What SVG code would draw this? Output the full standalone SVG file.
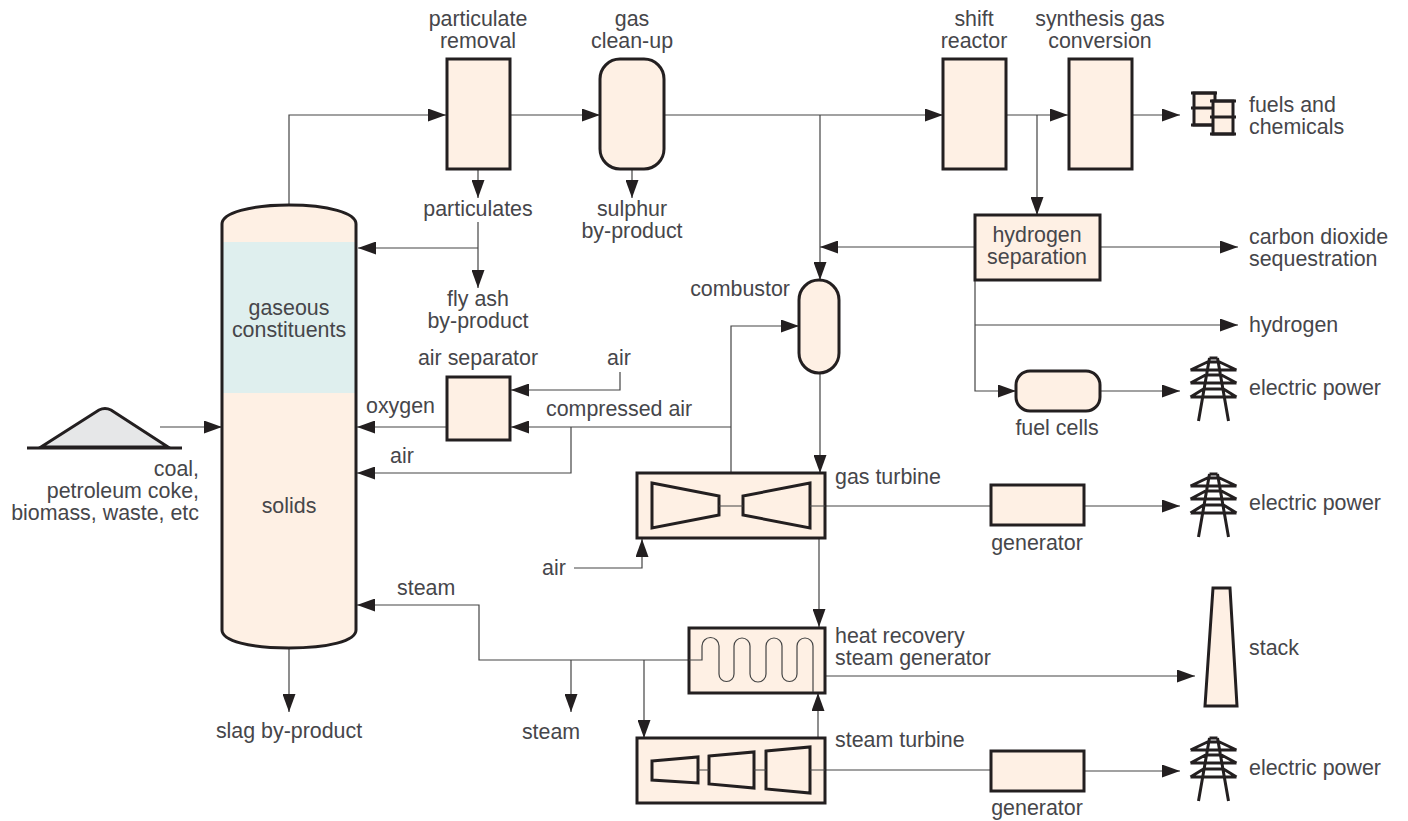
<svg xmlns="http://www.w3.org/2000/svg" width="1408" height="821" viewBox="0 0 1408 821">
<style>
text{font-family:"Liberation Sans",Arial,sans-serif;font-size:21.4px;fill:#46464a}
.m{text-anchor:middle}
.e{text-anchor:end}
.b{fill:#fef0e4;stroke:#231f20;stroke-width:3}
.i{fill:none;stroke:#231f20;stroke-width:3}
.c{fill:none;stroke:#444;stroke-width:1.2}
.t{fill:none;stroke:#231f20;stroke-width:3}
</style>
<defs>
<marker id="a" markerUnits="userSpaceOnUse" markerWidth="18" markerHeight="13" refX="18" refY="6.5" orient="auto"><path d="M0 0L18 6.5L0 13Z" fill="#231f20"/></marker>
<g id="tower"><path class="t" d="M-23 -20H23M-23 -7H23M-23 7H23M-23 -20L-4 -29M23 -20L4 -29M-23 -7L-8 -15M23 -7L8 -15M-23 7L-10 -1M23 7L10 -1M-4 -28H4M-7 -15H7M-9 -1H9M-4 -32H4M-4 -32L-15 31M4 -32L15 31"/></g>
</defs>
<g id="connectors">
<path class="c" marker-end="url(#a)" d="M289 205V115H446"/>
<path class="c" marker-end="url(#a)" d="M510 115H600"/>
<path class="c" marker-end="url(#a)" d="M665 115H943"/>
<path class="c" marker-end="url(#a)" d="M1006 115H1068"/>
<path class="c" marker-end="url(#a)" d="M1132 115H1180"/>
<path class="c" marker-end="url(#a)" d="M478 169V198"/>
<path class="c" marker-end="url(#a)" d="M632 169V198"/>
<path class="c" d="M478 222V248"/>
<path class="c" marker-end="url(#a)" d="M478 248H358"/>
<path class="c" marker-end="url(#a)" d="M478 248V288"/>
<path class="c" marker-end="url(#a)" d="M820 115V280"/>
<path class="c" marker-end="url(#a)" d="M1037 115V215"/>
<path class="c" marker-end="url(#a)" d="M975 247H820"/>
<path class="c" marker-end="url(#a)" d="M1101 247H1238"/>
<path class="c" marker-end="url(#a)" d="M975 280V391H1016"/>
<path class="c" marker-end="url(#a)" d="M975 325H1238"/>
<path class="c" marker-end="url(#a)" d="M1101 391H1180"/>
<path class="c" marker-end="url(#a)" d="M731 472V326H799"/>
<path class="c" marker-end="url(#a)" d="M820 373V473"/>
<path class="c" marker-end="url(#a)" d="M731 427H511"/>
<path class="c" marker-end="url(#a)" d="M620 372V390H511"/>
<path class="c" marker-end="url(#a)" d="M446 427H357"/>
<path class="c" marker-end="url(#a)" d="M571 427V473H357"/>
<path class="c" marker-end="url(#a)" d="M160 427H222"/>
<path class="c" marker-end="url(#a)" d="M574 568H642V539"/>
<path class="c" d="M825 506H991"/>
<path class="c" marker-end="url(#a)" d="M1085 506H1180"/>
<path class="c" marker-end="url(#a)" d="M819 538V627"/>
<path class="c" marker-end="url(#a)" d="M826 676H1195"/>
<path class="c" marker-end="url(#a)" d="M818 737V693"/>
<path class="c" d="M825 770H991"/>
<path class="c" marker-end="url(#a)" d="M1085 771H1180"/>
<path class="c" marker-end="url(#a)" d="M702 660H479V605H357"/>
<path class="c" marker-end="url(#a)" d="M571 660V712"/>
<path class="c" marker-end="url(#a)" d="M644 660V738"/>
<path class="c" marker-end="url(#a)" d="M289 648V712"/>
</g>
<g id="gasifier">
<path d="M222 224C222 213 250 205 289 205C328 205 356 213 356 224V630C356 641 328 648 289 648C250 648 222 641 222 630Z" fill="#fef0e4"/>
<rect x="223" y="242" width="132" height="151" fill="#dfefee"/>
<path d="M222 224C222 213 250 205 289 205C328 205 356 213 356 224V630C356 641 328 648 289 648C250 648 222 641 222 630Z" fill="none" stroke="#231f20" stroke-width="3"/>
<text class="m"><tspan x="289" y="315">gaseous</tspan><tspan x="289" y="337">constituents</tspan></text>
<text class="m" x="289" y="513">solids</text>
</g>
<g id="coal">
<path d="M41 447L99 410Q105 407 111 410L168 447Z" fill="#e6e7e8" stroke="#231f20" stroke-width="3"/>
<path d="M27 448H182" stroke="#231f20" stroke-width="3"/>
<text class="e"><tspan x="199" y="476">coal,</tspan><tspan x="199" y="498">petroleum coke,</tspan><tspan x="199" y="520">biomass, waste, etc</tspan></text>
</g>
<g id="particulate"><rect class="b" x="447" y="59" width="63" height="110"/><text class="m"><tspan x="478" y="26">particulate</tspan><tspan x="478" y="48">removal</tspan></text></g>
<g id="cleanup"><rect class="b" x="600" y="59" width="64" height="110" rx="20"/><text class="m"><tspan x="632" y="26">gas</tspan><tspan x="632" y="48">clean-up</tspan></text></g>
<g id="shift"><rect class="b" x="943" y="59" width="63" height="110"/><text class="m"><tspan x="974" y="26">shift</tspan><tspan x="974" y="48">reactor</tspan></text></g>
<g id="synthesis"><rect class="b" x="1069" y="59" width="63" height="110"/><text class="m"><tspan x="1100" y="26">synthesis gas</tspan><tspan x="1100" y="48">conversion</tspan></text></g>
<g id="barrels">
<path d="M1194 93H1215V125H1194Z" fill="#fef0e4" stroke="#231f20" stroke-width="3"/><path d="M1191 93H1217M1191 108H1217M1191 125H1217" class="t"/>
<path d="M1213 101H1233V134H1213Z" fill="#fef0e4" stroke="#231f20" stroke-width="3"/><path d="M1210 101H1236M1210 117H1236M1210 134H1236" class="t"/>
<text><tspan x="1249" y="111.5">fuels and</tspan><tspan x="1249" y="133.5">chemicals</tspan></text>
</g>
<g id="psub"><text class="m" x="478" y="216">particulates</text><text class="m"><tspan x="478" y="306">fly ash</tspan><tspan x="478" y="328">by-product</tspan></text></g>
<g id="sulphur"><text class="m"><tspan x="632" y="215.5">sulphur</tspan><tspan x="632" y="237.5">by-product</tspan></text></g>
<g id="hydrogen"><rect class="b" x="975" y="215" width="125" height="65"/><text class="m"><tspan x="1037" y="242">hydrogen</tspan><tspan x="1037" y="264">separation</tspan></text></g>
<g id="co2"><text><tspan x="1249" y="243.5">carbon dioxide</tspan><tspan x="1249" y="265.5">sequestration</tspan></text></g>
<g id="h2"><text x="1249" y="332">hydrogen</text></g>
<g id="combustor"><rect class="b" x="799" y="280" width="40" height="93" rx="20"/><text class="e" x="790" y="296">combustor</text></g>
<g id="fuelcells"><rect class="b" x="1016" y="371" width="84" height="40" rx="14"/><text class="m" x="1057" y="435">fuel cells</text></g>
<g id="airsep"><rect class="b" x="447" y="377" width="63" height="63"/><text class="m" x="478" y="365">air separator</text></g>
<g id="labels">
<text class="m" x="619" y="365">air</text>
<text x="546" y="416">compressed air</text>
<text x="366" y="413">oxygen</text>
<text x="390" y="463">air</text>
<text x="542" y="575">air</text>
<text x="397" y="595">steam</text>
<text class="m" x="551" y="739">steam</text>
<text class="m" x="289" y="738">slag by-product</text>
</g>
<g id="gasturbine"><rect class="b" x="637" y="473" width="188" height="65"/>
<path class="i" d="M652 483L719 496V515L652 528Z"/><path class="i" d="M810 483L743 496V515L810 528Z"/><path class="c" d="M719 506H743M810 506H825"/>
<text x="835" y="484">gas turbine</text></g>
<g id="gen1"><rect class="b" x="991" y="485" width="93" height="40"/><text class="m" x="1037" y="550">generator</text></g>
<g id="hrsg"><rect class="b" x="689" y="628" width="136" height="65"/>
<path class="c" d="M689 660H702V646A8.5 8.5 0 0 1 719 646V674A7.5 7.5 0 0 0 734 674V646A8 8 0 0 1 750 646V674A8 8 0 0 0 766 674V646A8 8 0 0 1 782 646V674A7.5 7.5 0 0 0 797 674V646A8 8 0 0 1 813 646V692"/>
<text><tspan x="835" y="642.5">heat recovery</tspan><tspan x="835" y="664.5">steam generator</tspan></text></g>
<g id="stack"><path class="b" d="M1213 588H1230L1237 706H1205Z" stroke-width="2.5"/><text x="1249" y="655">stack</text></g>
<g id="steamturbine"><rect class="b" x="637" y="738" width="188" height="65"/>
<path class="i" d="M652 761L698 757V783L652 780Z"/><path class="i" d="M709 756L754 752V788L709 784Z"/><path class="i" d="M766 751L810 747V793L766 789Z"/><path class="c" d="M698 770H709M754 770H766M810 770H825"/>
<text x="835" y="747">steam turbine</text></g>
<g id="gen2"><rect class="b" x="991" y="751" width="93" height="40"/><text class="m" x="1037" y="815">generator</text></g>
<g id="power1"><use href="#tower" x="1213.5" y="390"/><text x="1249" y="395">electric power</text></g>
<g id="power2"><use href="#tower" x="1213.5" y="506"/><text x="1249" y="510">electric power</text></g>
<g id="power3"><use href="#tower" x="1213.5" y="770"/><text x="1249" y="775">electric power</text></g>
</svg>
